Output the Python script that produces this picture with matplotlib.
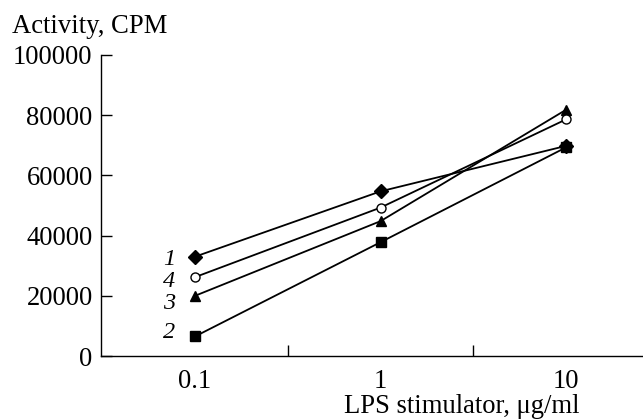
import matplotlib
matplotlib.use("Agg")
import matplotlib.pyplot as plt
from matplotlib.ticker import FixedLocator, NullLocator

plt.rcParams["font.family"] = ["Liberation Serif", "DejaVu Serif"]

# LPS concentration, ug/ml
dose = [0.1, 1, 10]

# activity (CPM) per curve
curve_1 = [33000, 54700, 69800]
curve_2 = [6500, 37800, 69300]
curve_3 = [20000, 44800, 81800]
curve_4 = [26200, 49300, 78600]

curve_labels = ["1", "2", "3", "4"]
y_ticks = [0, 20000, 40000, 60000, 80000, 100000]
x_ticklabels = ["0.1", "1", "10"]

FS = 19.2

fig = plt.figure(figsize=(6.43, 4.2), dpi=100)
ax = fig.add_axes([101 / 643, 1 - 356 / 420, 1 - 101 / 643, 301 / 420])

lw = 1.3
ax.plot(dose, curve_1, color="black", lw=lw, marker="D", ms=7, mfc="black", mec="black")
ax.plot(dose, curve_2, color="black", lw=lw, marker="s", ms=7, mfc="black", mec="black")
ax.plot(dose, curve_3, color="black", lw=lw, marker="^", ms=7.5, mfc="black", mec="black")
ax.plot(dose, curve_4, color="black", lw=lw, marker="o", ms=6.5, mfc="white", mec="black", mew=1)

# curve numbers next to the first points
label_y = [curve_1[0] - 900, curve_2[0] + 1300, curve_3[0] - 2400, curve_4[0] - 1300]
for lab, yv in zip(curve_labels, label_y):
    ax.text(0.0725, yv, lab, fontsize=17.5, style="italic", ha="center", va="center")

ax.set_xscale("log")
ax.set_xlim(10 ** -1.507, 10 ** 1.415)
ax.set_ylim(0, 100000)

ax.xaxis.set_major_locator(FixedLocator([10 ** -0.5, 10 ** 0.5]))
ax.xaxis.set_minor_locator(NullLocator())
ax.set_xticklabels([])
ax.tick_params(axis="x", which="major", direction="in", length=8, width=1)
for xv, lab in zip(dose, x_ticklabels):
    ax.text(xv, -32 / 301, lab, transform=ax.get_xaxis_transform(), fontsize=FS,
            ha="center", va="baseline")

ax.set_yticks(y_ticks)
ax.set_yticklabels([str(v) for v in y_ticks], fontsize=FS)
ax.tick_params(axis="y", direction="in", length=8, width=1, pad=6)

for side in ["top", "right"]:
    ax.spines[side].set_visible(False)
for side in ["left", "bottom"]:
    ax.spines[side].set_linewidth(1)

fig.text(12 / 643, 1 - 33 / 420, "Activity, CPM", fontsize=FS, ha="left", va="baseline")
fig.text(580 / 643, 1 - 413 / 420, "LPS stimulator, μg/ml", fontsize=FS, ha="right", va="baseline")

fig.savefig("out.png", dpi=100)
